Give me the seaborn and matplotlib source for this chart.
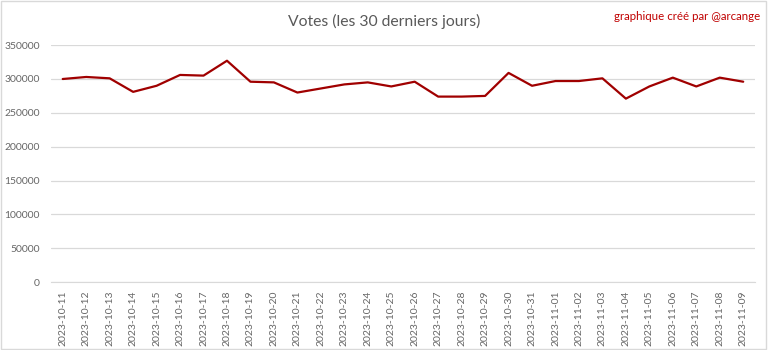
import pandas as pd
import numpy as np
import matplotlib
matplotlib.use('Agg')
import matplotlib.pyplot as plt
import seaborn as sns

# Votes per day over the last 30 days
dates = ['2023-10-11', '2023-10-12', '2023-10-13', '2023-10-14', '2023-10-15',
         '2023-10-16', '2023-10-17', '2023-10-18', '2023-10-19', '2023-10-20',
         '2023-10-21', '2023-10-22', '2023-10-23', '2023-10-24', '2023-10-25',
         '2023-10-26', '2023-10-27', '2023-10-28', '2023-10-29', '2023-10-30',
         '2023-10-31', '2023-11-01', '2023-11-02', '2023-11-03', '2023-11-04',
         '2023-11-05', '2023-11-06', '2023-11-07', '2023-11-08', '2023-11-09']
votes = [300000, 303000, 301000, 281000, 290000,
         306000, 305000, 327000, 296000, 295000,
         280000, 286000, 292000, 295000, 289000,
         296000, 274000, 274000, 275000, 309000,
         290000, 297000, 297000, 301000, 271000,
         289000, 302000, 289000, 302000, 296000]
y_ticks = [0, 50000, 100000, 150000, 200000, 250000, 300000, 350000]

df = pd.DataFrame({'date': dates, 'votes': votes})

sns.set_style('white')
plt.rcParams['font.family'] = ['Lato', 'DejaVu Sans']

fig = plt.figure(figsize=(7.68, 3.5), dpi=100)
ax = fig.add_axes([0.0664, 0.194, 0.9166, 0.677])

sns.lineplot(data=df, x='date', y='votes', ax=ax, color='#A00000', linewidth=1.6, sort=False)

ax.set_xlim(-0.5, len(dates) - 0.5)
ax.set_ylim(0, 350000)
ax.set_yticks(y_ticks)
ax.set_yticklabels([str(t) for t in y_ticks])
ax.set_xticks(range(len(dates)))
ax.set_xticklabels(dates, rotation=90)
ax.tick_params(axis='both', length=0, labelsize=7.5, labelcolor='#666666')
ax.tick_params(axis='x', pad=6)
ax.tick_params(axis='y', pad=8)
ax.yaxis.grid(True, color='#D9D9D9', linewidth=0.9)
ax.set_axisbelow(True)
for s in ['top', 'right', 'left']:
    ax.spines[s].set_visible(False)
ax.spines['bottom'].set_color('#D9D9D9')
ax.set_xlabel('')
ax.set_ylabel('')

fig.text(0.5, 0.94, 'Votes (les 30 derniers jours)', ha='center', va='center',
         fontsize=11.3, color='#595959')
fig.text(0.99, 0.952, 'graphique créé par @arcange', ha='right', va='center',
         fontsize=8.3, color='#C00000')

# light border around the whole chart
fig.patches.append(plt.Rectangle((0.001, 0.002), 0.997, 0.995, transform=fig.transFigure,
                                 fill=False, edgecolor='#D9D9D9', linewidth=1))

fig.savefig('out.png', dpi=100)
